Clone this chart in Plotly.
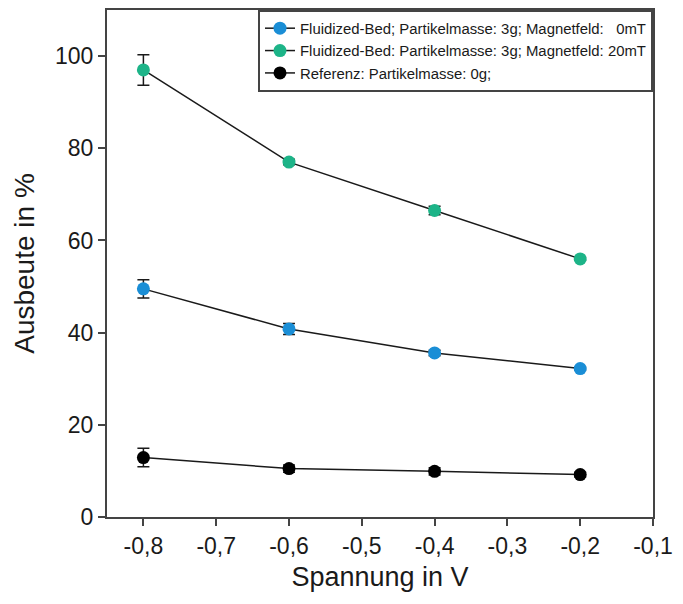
import plotly.graph_objects as go

spannung = [-0.8, -0.6, -0.4, -0.2]

names = [
    "Fluidized-Bed; Partikelmasse: 3g; Magnetfeld:   0mT",
    "Fluidized-Bed: Partikelmasse: 3g; Magnetfeld: 20mT",
    "Referenz: Partikelmasse: 0g;",
]
blau_y = [49.5, 40.8, 35.6, 32.2]
blau_err = [2.0, 1.2, 0.6, 0.3]
gruen_y = [97.0, 77.0, 66.5, 56.0]
gruen_err = [3.3, 0.6, 0.9, 0.3]
schwarz_y = [12.9, 10.5, 9.9, 9.2]
schwarz_err = [2.0, 0.8, 0.8, 0.5]

colors = ["#1a8ed6", "#1db488", "#000000"]
series = [(blau_y, blau_err), (gruen_y, gruen_err), (schwarz_y, schwarz_err)]

x_ticks = [-0.8, -0.7, -0.6, -0.5, -0.4, -0.3, -0.2, -0.1]
x_labels = ["-0,8", "-0,7", "-0,6", "-0,5", "-0,4", "-0,3", "-0,2", "-0,1"]
y_ticks = [0, 20, 40, 60, 80, 100]

fig = go.Figure()
for name, (yv, ev), col in zip(names, series, colors):
    fig.add_trace(go.Scatter(
        x=spannung, y=yv, name=name, mode="lines+markers",
        line=dict(color="#1a1a1a", width=1.5),
        marker=dict(color=col, size=13, line=dict(width=0)),
        error_y=dict(type="data", array=ev, visible=True, color="#1a1a1a",
                     thickness=1.5, width=6),
    ))

fig.update_layout(
    width=675, height=596,
    margin=dict(l=99, r=30, t=0, b=87),
    paper_bgcolor="white", plot_bgcolor="white",
    font=dict(family="Liberation Sans, Arial, sans-serif", color="#1a1a1a"),
    showlegend=True,
    legend=dict(
        x=1, y=1, xanchor="right", yanchor="top",
        bordercolor="#444444", borderwidth=2, bgcolor="white",
        font=dict(size=14.9, color="#1a1a1a"),
        tracegroupgap=0, itemwidth=30,
    ),
    xaxis=dict(
        range=[-0.85, -0.1], tickvals=x_ticks, ticktext=x_labels,
        ticks="outside", ticklen=7, tickwidth=1.5, tickcolor="#444444",
        showline=True, linecolor="#444444", linewidth=2, mirror=True,
        showgrid=False, zeroline=False,
        tickfont=dict(size=23),
        title=dict(text="Spannung in V", font=dict(size=27), standoff=10),
    ),
    yaxis=dict(
        range=[0, 110], tickvals=y_ticks,
        ticks="outside", ticklen=7, tickwidth=1.5, tickcolor="#444444",
        showline=True, linecolor="#444444", linewidth=2, mirror=True,
        showgrid=False, zeroline=False,
        tickfont=dict(size=23),
        title=dict(text="Ausbeute in %", font=dict(size=28), standoff=12),
    ),
)

fig.write_html("out.html")
